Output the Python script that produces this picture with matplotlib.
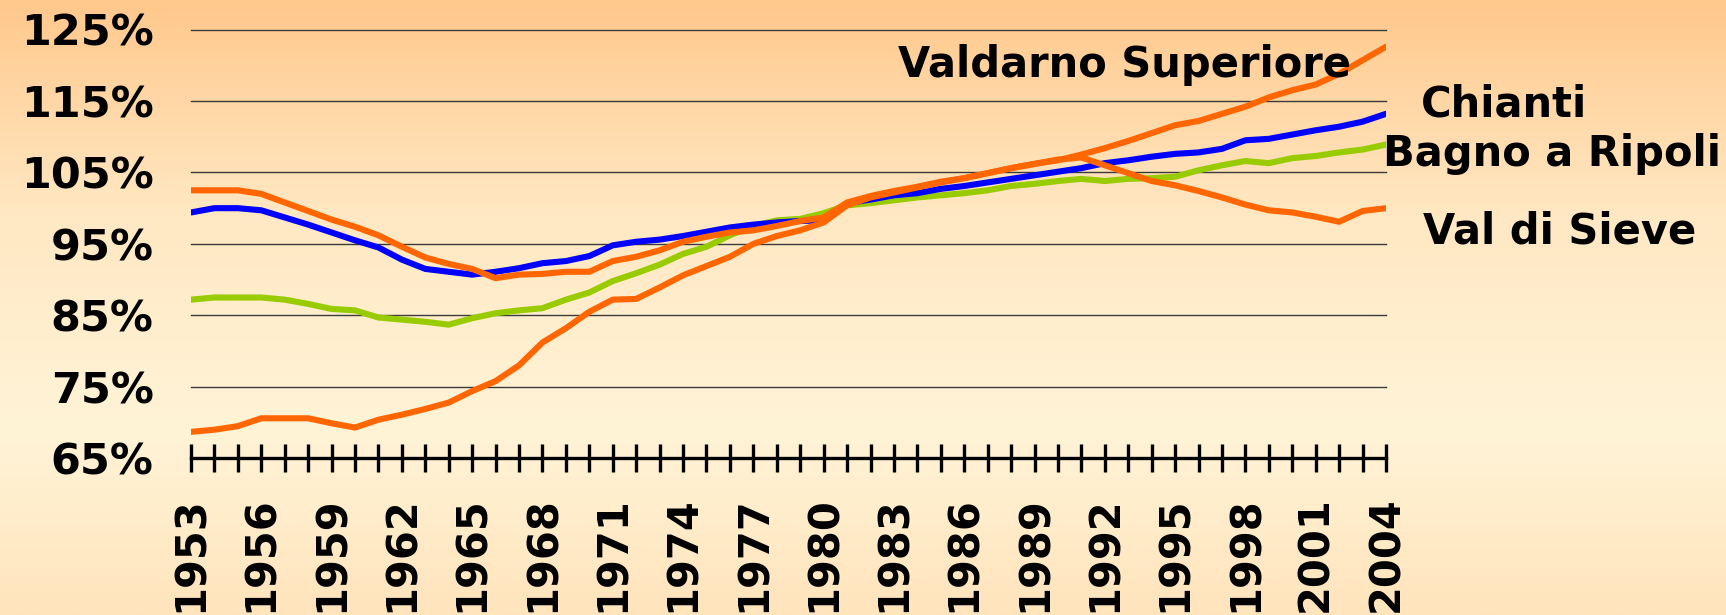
import numpy as np
import matplotlib
matplotlib.use("Agg")
import matplotlib.pyplot as plt

years = list(range(1953, 2005))

valdarno_superiore = [68.7, 69.0, 69.5, 70.6, 70.6, 70.6, 69.9, 69.3, 70.4, 71.1,
                      71.9, 72.8, 74.4, 75.8, 78.0, 81.2, 83.2, 85.5, 87.2, 87.3,
                      88.9, 90.6, 91.9, 93.2, 95.0, 96.1, 96.9, 98.0, 100.4, 101.5,
                      102.2, 102.9, 103.6, 104.2, 104.9, 105.6, 106.2, 106.7, 107.5, 108.4,
                      109.4, 110.5, 111.6, 112.2, 113.2, 114.2, 115.5, 116.5, 117.3, 118.8,
                      120.7, 122.6]

chianti = [99.4, 100.0, 100.0, 99.7, 98.7, 97.7, 96.6, 95.5, 94.5, 92.8,
           91.5, 91.1, 90.7, 91.1, 91.6, 92.3, 92.6, 93.3, 94.8, 95.3,
           95.6, 96.1, 96.7, 97.3, 97.7, 98.0, 98.2, 98.3, 100.7, 101.2,
           101.8, 102.1, 102.7, 103.1, 103.6, 104.1, 104.6, 105.1, 105.6, 106.3,
           106.7, 107.2, 107.6, 107.8, 108.3, 109.5, 109.7, 110.3, 110.9, 111.4,
           112.1, 113.2]

bagno_a_ripoli = [87.2, 87.5, 87.5, 87.5, 87.2, 86.6, 85.9, 85.7, 84.7, 84.4,
                  84.1, 83.7, 84.6, 85.3, 85.7, 86.0, 87.2, 88.2, 89.8, 90.9,
                  92.1, 93.6, 94.6, 96.2, 97.5, 98.3, 98.5, 99.3, 100.4, 100.7,
                  101.1, 101.5, 101.8, 102.1, 102.5, 103.1, 103.4, 103.8, 104.1, 103.8,
                  104.1, 104.2, 104.4, 105.3, 106.0, 106.6, 106.3, 107.0, 107.3, 107.8,
                  108.2, 108.9]

val_di_sieve = [102.5, 102.5, 102.5, 102.0, 100.8, 99.6, 98.4, 97.4, 96.2, 94.6,
                93.1, 92.2, 91.5, 90.2, 90.7, 90.8, 91.1, 91.1, 92.6, 93.2,
                94.1, 95.3, 96.0, 96.6, 96.9, 97.5, 98.2, 98.7, 100.8, 101.7,
                102.4, 103.0, 103.7, 104.2, 104.9, 105.6, 106.2, 106.8, 107.1, 106.0,
                104.9, 103.8, 103.2, 102.4, 101.5, 100.5, 99.7, 99.4, 98.8, 98.1,
                99.6, 100.0]

y_ticks = [65, 75, 85, 95, 105, 115, 125]
y_labels = ["65%", "75%", "85%", "95%", "105%", "115%", "125%"]
series_names = ["Valdarno Superiore", "Chianti", "Bagno a Ripoli", "Val di Sieve"]

W, H = 1726, 615
fig = plt.figure(figsize=(W / 100, H / 100), dpi=100)

# background gradient
bg = fig.add_axes([0, 0, 1, 1], zorder=-10)
stops_y = np.array([0.0, 0.35, 0.70, 1.0])
stops_c = np.array([[255, 200, 140], [255, 232, 195], [255, 244, 215], [255, 228, 188]]) / 255.0
yy = np.linspace(0, 1, 400)
grad = np.stack([np.interp(yy, stops_y, stops_c[:, k]) for k in range(3)], axis=-1)
grad = np.repeat(grad[:, None, :], 2, axis=1)
bg.imshow(grad, aspect="auto", extent=[0, 1, 1, 0], interpolation="bilinear")
bg.set_axis_off()


def fx(px):
    return px / W


def fy(py):
    return 1 - py / H


left, right, top, bottom = 191, 1386, 29.5, 458.3
ax = fig.add_axes([fx(left), fy(bottom), fx(right - left), fy(top) - fy(bottom)])
ax.set_facecolor("none")

for v in y_ticks[1:]:
    ax.axhline(v, color="#3a3a3a", lw=1.0, zorder=1, clip_on=False)

ax.plot(years, bagno_a_ripoli, color="#99CC00", lw=4.4, solid_capstyle="round", zorder=3)
ax.plot(years, chianti, color="#0000FF", lw=4.4, solid_capstyle="round", zorder=4)
ax.plot(years, val_di_sieve, color="#FF6600", lw=4.4, solid_capstyle="round", zorder=5)
ax.plot(years, valdarno_superiore, color="#FF6600", lw=4.4, solid_capstyle="round", zorder=5)

ax.set_xlim(years[0], years[-1])
ax.set_ylim(65, 125)

for s in ["top", "right", "left"]:
    ax.spines[s].set_visible(False)
ax.spines["bottom"].set_linewidth(2.4)
ax.spines["bottom"].set_color("black")
ax.spines["bottom"].set_zorder(6)

ax.set_xticks(years)
ax.set_xticklabels([str(y) if (y - years[0]) % 3 == 0 else "" for y in years],
                   rotation=90, fontsize=30, fontweight="bold", family="DejaVu Sans")
ax.tick_params(axis="x", direction="inout", length=20.5, width=2.4, pad=17, color="black")
for lbl in ax.get_xticklabels():
    lbl.set_clip_on(False)

ax.set_yticks(y_ticks)
ax.set_yticklabels(y_labels, fontsize=31, fontweight="bold", family="DejaVu Sans")
ax.tick_params(axis="y", length=0, pad=27)

txt_kw = dict(fontsize=30, fontweight="bold", family="DejaVu Sans", color="black",
              ha="center", va="baseline", transform=fig.transFigure)
fig.text(fx(1124), fy(77), series_names[0], **txt_kw)
fig.text(fx(1504), fy(117), series_names[1], **txt_kw)
fig.text(fx(1552), fy(166), series_names[2], **txt_kw)
fig.text(fx(1560), fy(243), series_names[3], **txt_kw)

fig.savefig("out.png", dpi=100)
